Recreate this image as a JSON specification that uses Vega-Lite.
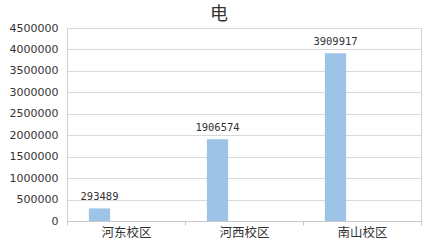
{
  "$schema": "https://vega.github.io/schema/vega-lite/v6.json",
  "width": 354,
  "height": 193,
  "autosize": {"type": "none"},
  "padding": {"left": 67, "top": 28, "right": 7, "bottom": 21},
  "background": "white",
  "title": {
    "text": "电",
    "fontSize": 18,
    "fontWeight": "normal",
    "font": "Noto Sans CJK SC",
    "color": "#333333",
    "anchor": "middle",
    "dx": -25,
    "dy": 8,
    "offset": 6
  },
  "config": {
    "view": {"stroke": "#cfcbe6", "strokeWidth": 1},
    "axis": {"labelFont": "DejaVu Sans", "labelColor": "#333333"}
  },
  "data": {
    "values": [
      {"campus": "河东校区", "power": 293489},
      {"campus": "河西校区", "power": 1906574},
      {"campus": "南山校区", "power": 3909917}
    ]
  },
  "encoding": {
    "x": {
      "field": "campus",
      "type": "nominal",
      "sort": null,
      "scale": {"paddingInner": 0, "paddingOuter": 0},
      "axis": {
        "title": null,
        "labelAngle": 0,
        "labelFont": "Noto Sans CJK SC",
        "labelFontSize": 12.5,
        "labelColor": "#333333",
        "domainColor": "#c8c8c8",
        "tickColor": "#c8c8c8",
        "tickSize": 4,
        "labelPadding": 1,
        "bandPosition": 0,
        "tickBand": "extent"
      }
    },
    "y": {
      "field": "power",
      "type": "quantitative",
      "scale": {"domain": [0, 4500000], "nice": false},
      "axis": {
        "title": null,
        "values": [0, 500000, 1000000, 1500000, 2000000, 2500000, 3000000, 3500000, 4000000, 4500000],
        "format": "d",
        "labelFontSize": 11,
        "tickSize": 0,
        "labelPadding": 9,
        "gridColor": "#d9d9d9",
        "domainColor": "#cfcbe6"
      }
    }
  },
  "layer": [
    {
      "mark": {"type": "bar", "color": "#9dc3e6", "width": {"band": 0.18}, "xOffset": -26.5}
    },
    {
      "mark": {
        "type": "text",
        "xOffset": -26.5,
        "dy": -6,
        "baseline": "bottom",
        "font": "DejaVu Sans Mono",
        "fontSize": 10.5,
        "color": "#333333"
      },
      "encoding": {"text": {"field": "power", "type": "quantitative", "format": "d"}}
    }
  ]
}
